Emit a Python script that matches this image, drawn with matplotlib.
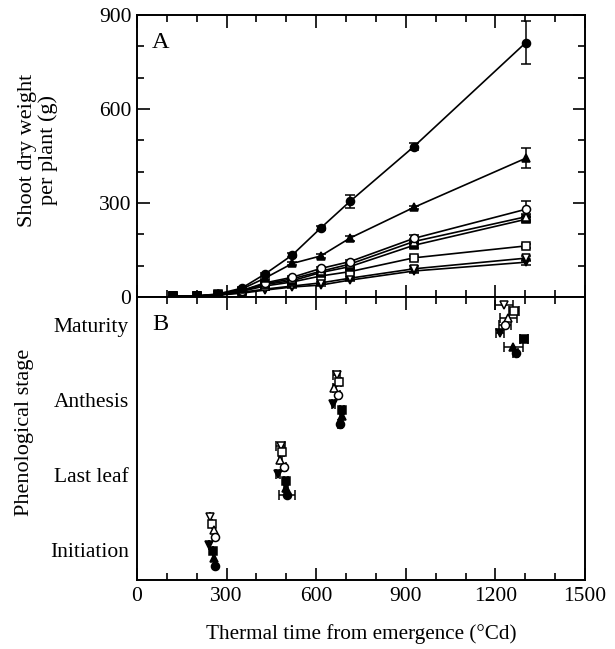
import matplotlib
matplotlib.use("Agg")
import matplotlib.pyplot as plt
import numpy as np
from matplotlib.ticker import MultipleLocator, FixedLocator, NullLocator

plt.rcParams['font.family'] = ['Liberation Serif', 'DejaVu Serif']
plt.rcParams['mathtext.fontset'] = 'stix'

# ---------------- Data ----------------
# Panel A: shoot dry weight (g) vs thermal time (°Cd)
tt_growth = [119, 200, 272, 350, 428, 520, 615, 713, 927, 1302]

series_names = ["filled circle", "filled triangle", "filled square", "filled down-triangle",
                "open circle", "open triangle", "open square", "open down-triangle"]
markers = ['o', '^', 's', 'v', 'o', '^', 's', 'v']
filled = [True, True, True, True, False, False, False, False]

dw_filled_circle = [3, 3, 10, 28, 73, 134, 220, 305, 480, 812]
dw_filled_triangle = [3, 3, 8, 25, 60, 107, 131, 188, 286, 443]
dw_filled_square = [3, 3, 8, 20, 40, 52, 78, 97, 165, 248]
dw_filled_dtri = [3, 3, 6, 12, 22, 32, 38, 54, 83, 111]
dw_open_circle = [3, 3, 8, 20, 45, 63, 91, 113, 187, 280]
dw_open_triangle = [3, 3, 8, 20, 42, 58, 82, 105, 177, 256]
dw_open_square = [3, 3, 7, 18, 35, 48, 67, 81, 125, 163]
dw_open_dtri = [3, 3, 6, 15, 25, 35, 45, 60, 90, 124]

err_filled_circle = [0, 0, 0, 0, 4, 5, 6, 22, 12, 68]
err_filled_triangle = [0, 0, 0, 0, 3, 4, 5, 8, 6, 31]
err_filled_square = [0, 0, 0, 0, 0, 3, 4, 5, 8, 8]
err_filled_dtri = [0, 0, 0, 0, 0, 3, 3, 4, 6, 8]
err_open_circle = [0, 0, 0, 0, 3, 4, 5, 6, 12, 25]
err_open_triangle = [0, 0, 0, 0, 3, 4, 5, 6, 8, 10]
err_open_square = [0, 0, 0, 0, 0, 3, 4, 5, 7, 6]
err_open_dtri = [0, 0, 0, 0, 0, 3, 4, 5, 10, 8]

dw = [dw_filled_circle, dw_filled_triangle, dw_filled_square, dw_filled_dtri,
      dw_open_circle, dw_open_triangle, dw_open_square, dw_open_dtri]
dw_err = [err_filled_circle, err_filled_triangle, err_filled_square, err_filled_dtri,
          err_open_circle, err_open_triangle, err_open_square, err_open_dtri]

# Panel B: thermal time reaching each stage (Initiation, Last leaf, Anthesis, Maturity)
stage_labels = ["Initiation", "Last leaf", "Anthesis", "Maturity"]
stage_ticks = [1, 2, 3, 4]

tt_filled_circle = [262, 503, 680, 1268]
tt_filled_triangle = [259, 498, 685, 1260]
tt_filled_square = [253, 499, 687, 1296]
tt_filled_dtri = [242, 473, 657, 1215]
tt_open_circle = [261, 492, 674, 1232]
tt_open_triangle = [259, 479, 661, 1243]
tt_open_square = [252, 486, 676, 1262]
tt_open_dtri = [244, 481, 669, 1229]

tterr_filled_circle = [0, 27, 6, 8]
tterr_filled_triangle = [0, 6, 6, 31]
tterr_filled_square = [0, 6, 6, 14]
tterr_filled_dtri = [0, 6, 5, 14]
tterr_open_circle = [0, 6, 6, 20]
tterr_open_triangle = [0, 5, 5, 28]
tterr_open_square = [0, 6, 6, 16]
tterr_open_dtri = [0, 14, 12, 30]

# vertical plotting position of each treatment within each stage (stage units)
ys_filled_circle = [0.79, 1.73, 2.68, 3.62]
ys_filled_triangle = [0.89, 1.82, 2.78, 3.71]
ys_filled_square = [0.98, 1.92, 2.87, 3.81]
ys_filled_dtri = [1.07, 2.01, 2.95, 3.89]
ys_open_circle = [1.17, 2.11, 3.06, 4.00]
ys_open_triangle = [1.27, 2.20, 3.16, 4.09]
ys_open_square = [1.35, 2.30, 3.24, 4.18]
ys_open_dtri = [1.44, 2.39, 3.33, 4.27]

tt_stage = [tt_filled_circle, tt_filled_triangle, tt_filled_square, tt_filled_dtri,
            tt_open_circle, tt_open_triangle, tt_open_square, tt_open_dtri]
tt_stage_err = [tterr_filled_circle, tterr_filled_triangle, tterr_filled_square, tterr_filled_dtri,
                tterr_open_circle, tterr_open_triangle, tterr_open_square, tterr_open_dtri]
y_stage = [ys_filled_circle, ys_filled_triangle, ys_filled_square, ys_filled_dtri,
           ys_open_circle, ys_open_triangle, ys_open_square, ys_open_dtri]

# ---------------- Figure ----------------
fig = plt.figure(figsize=(6.15, 6.49), dpi=100)
L, R = 137/615, 585/615
yt, ym, yb = 1 - 15/649, 1 - 297/649, 1 - 580/649
axA = fig.add_axes([L, ym, R - L, yt - ym])
axB = fig.add_axes([L, yb, R - L, ym - yb], sharex=axA)

FS = 15.5
LFS = 16
ms = 5.8
order = [3, 7, 6, 2, 5, 4, 1, 0]
for i in order:
    fc = 'black' if filled[i] else 'white'
    axA.errorbar(tt_growth, dw[i], yerr=dw_err[i], color='black', lw=1.2,
                 marker=markers[i], ms=ms, mfc=fc, mec='black', mew=1.1,
                 elinewidth=1.1, capsize=3.5, capthick=1.1, zorder=3)

for i in order:
    fc = 'black' if filled[i] else 'white'
    axB.errorbar(tt_stage[i], y_stage[i], xerr=tt_stage_err[i], color='black',
                 ls='none', marker=markers[i], ms=ms, mfc=fc, mec='black', mew=1.1,
                 elinewidth=1.1, capsize=3.5, capthick=1.1, zorder=3)

for ax in (axA, axB):
    for s in ax.spines.values():
        s.set_linewidth(1.4)
    ax.set_xlim(0, 1500)
    ax.xaxis.set_major_locator(MultipleLocator(300))
    ax.xaxis.set_minor_locator(MultipleLocator(100))

axA.set_ylim(0, 900)
axA.yaxis.set_major_locator(MultipleLocator(300))
axA.yaxis.set_minor_locator(MultipleLocator(100))
axA.tick_params(which='both', direction='in', top=True, bottom=True, left=True, right=True,
                labelbottom=False, labelsize=FS, width=1.2)
axA.tick_params(which='major', length=9, pad=4)
axA.tick_params(which='minor', length=5)

axB.set_ylim(0.6, 4.373)
axB.yaxis.set_major_locator(FixedLocator(stage_ticks))
axB.set_yticklabels(stage_labels)
axB.yaxis.set_minor_locator(NullLocator())
axB.tick_params(axis='y', which='both', length=0, labelsize=FS, pad=6)
axB.tick_params(axis='x', which='both', direction='in', top=True, bottom=True,
                labelsize=FS, width=1.2, pad=5)
axB.tick_params(axis='x', which='major', length=9)
axB.tick_params(axis='x', which='minor', length=5)

fig.text(38/615, 1 - 150/649, "Shoot dry weight\nper plant (g)", rotation=90,
         ha='center', va='center', fontsize=LFS, linespacing=1.1, multialignment='center')
fig.text(25/615, 1 - 432/649, "Phenological stage", rotation=90,
         ha='center', va='center', fontsize=LFS)
fig.text((137 + 585) / 2 / 615, 1 - 634/649, "Thermal time from emergence (\u00b0Cd)",
         ha='center', va='center', fontsize=15.2)

axA.text(0.034, 0.94, "A", transform=axA.transAxes, fontsize=LFS + 1.5, va='top', ha='left')
axB.text(0.034, 0.94, "B", transform=axB.transAxes, fontsize=LFS + 1.5, va='top', ha='left')

fig.savefig("out.png", dpi=100)
